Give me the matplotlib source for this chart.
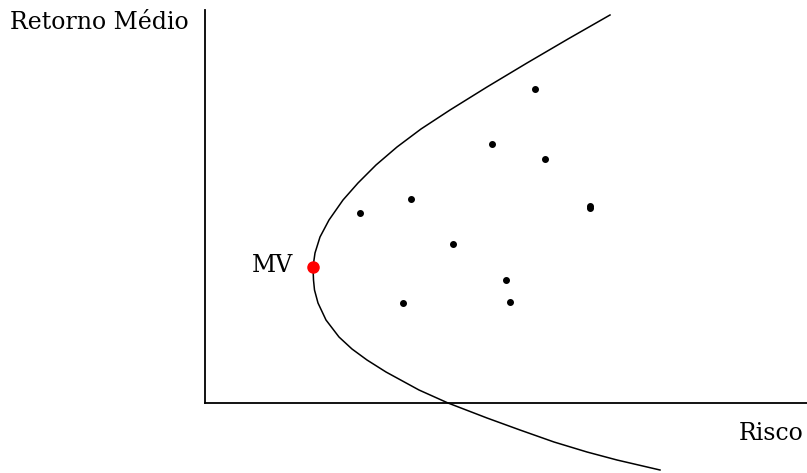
import matplotlib

matplotlib.use("Agg")
import matplotlib.pyplot as plt

# efficient frontier (risk, mean return), top to bottom
FRONTIER_RISK = [4.05, 3.63, 3.22, 2.82, 2.45, 2.16, 1.92, 1.71, 1.53, 1.38, 1.24,
                 1.15, 1.10, 1.08, 1.085, 1.095, 1.13, 1.21, 1.34, 1.47, 1.62,
                 1.81, 2.14, 2.43, 2.82, 3.15, 3.49, 3.82, 4.12, 4.55]
FRONTIER_RETURN = [3.88, 3.64, 3.40, 3.16, 2.93, 2.74, 2.56, 2.38, 2.20, 2.03, 1.83,
                   1.66, 1.50, 1.36, 1.23, 1.13, 1.00, 0.83, 0.66, 0.54, 0.43,
                   0.31, 0.13, 0.00, -0.15, -0.27, -0.39, -0.49, -0.57, -0.67]

# individual assets
ASSET_RISK = [3.30, 2.87, 3.40, 2.06, 1.55, 3.85, 3.85, 2.48, 3.01, 1.98, 3.05]
ASSET_RETURN = [3.14, 2.59, 2.44, 2.04, 1.90, 1.97, 1.95, 1.59, 1.23, 1.00, 1.01]

# minimum variance portfolio
MV_RISK = 1.08
MV_RETURN = 1.36

fig = plt.figure(figsize=(8.07, 4.73), dpi=100)
ax = fig.add_axes([0, 0, 1, 1])
ax.set_xlim(-2.05, 6.02)
ax.set_ylim(-0.70, 4.03)

ax.plot(FRONTIER_RISK, FRONTIER_RETURN, color="black", linewidth=1.1,
        solid_joinstyle="round", clip_on=False)
ax.plot(ASSET_RISK, ASSET_RETURN, "o", color="black", markersize=4)
ax.plot([MV_RISK], [MV_RETURN], "o", color="#ff0000", markersize=8, zorder=5)

for side in ["top", "right"]:
    ax.spines[side].set_visible(False)
ax.spines["left"].set_position(("data", 0))
ax.spines["bottom"].set_position(("data", 0))
ax.spines["left"].set_bounds(0, 3.93)
ax.spines["bottom"].set_bounds(0, 6.02)
ax.spines["left"].set_linewidth(1.3)
ax.spines["bottom"].set_linewidth(1.3)
ax.set_xticks([])
ax.set_yticks([])

font = {"family": "DejaVu Serif", "fontsize": 17}
ax.text(-1.95, 3.81, "Retorno Médio", ha="left", va="center", **font)
ax.text(5.34, -0.30, "Risco", ha="left", va="center", **font)
ax.text(0.88, 1.38, "MV", ha="right", va="center", **font)

fig.savefig("out.png", dpi=100)
